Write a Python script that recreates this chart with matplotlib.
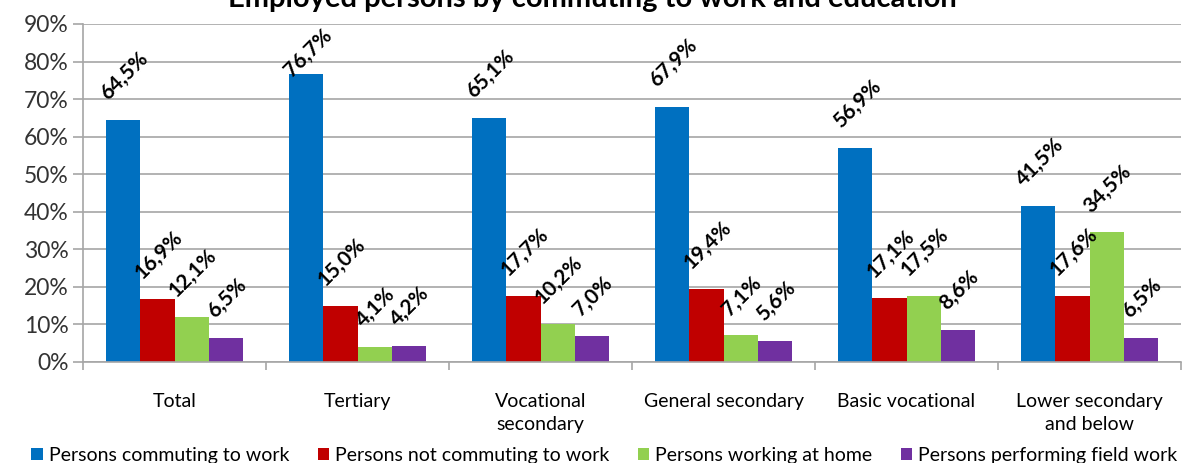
import matplotlib
matplotlib.use('Agg')
import matplotlib.pyplot as plt
import matplotlib.ticker as plticker
import numpy as np

plt.rcParams['font.family'] = ['Lato', 'DejaVu Sans']

categories = ['Total', 'Tertiary', 'Vocational\nsecondary', 'General secondary',
              'Basic vocational', 'Lower secondary\nand below']
series_names = ['Persons commuting to work', 'Persons not commuting to work',
                'Persons working at home', 'Persons performing field work']
commuting     = [64.5, 76.7, 65.1, 67.9, 56.9, 41.5]
not_commuting = [16.9, 15.0, 17.7, 19.4, 17.1, 17.6]
at_home       = [12.1, 4.1, 10.2, 7.1, 17.5, 34.5]
field_work    = [6.5, 4.2, 7.0, 5.6, 8.6, 6.5]
title = 'Employed persons by commuting to work and education'

series = [commuting, not_commuting, at_home, field_work]
colors = ['#0070C0', '#C00000', '#92D050', '#7030A0']
grid_color = '#a6a6a6'

fig = plt.figure(figsize=(11.85, 4.63), dpi=100)
ax = fig.add_axes([83/1185, 1 - 362/463, (1181 - 83)/1185, (362 - 24)/463])

x = np.arange(len(categories))
width = 0.186

for i, (vals, col, name) in enumerate(zip(series, colors, series_names)):
    pos = x + (i - 1.5)*width
    ax.bar(pos, vals, width, color=col, label=name, zorder=2)
    for px, v in zip(pos, vals):
        # labels above the bar, kept under the top of the plot area
        y_lab = min(v + 4.3, 74.8)
        ax.annotate(f'{v:.1f}%'.replace('.', ','), xy=(px, y_lab),
                    xytext=(1, 0), textcoords='offset points',
                    rotation=45, ha='center', va='bottom',
                    fontsize=15, fontweight='bold', zorder=3)

ax.set_xlim(-0.5, len(categories) - 0.5)
ax.set_ylim(0, 90)
ax.yaxis.set_major_locator(plticker.MultipleLocator(10))
ax.yaxis.set_major_formatter('{x:.0f}%')
ax.grid(axis='y', color=grid_color, linewidth=1.2, zorder=0)
ax.set_axisbelow(True)

ax.set_xticks(x, categories)
for lab in ax.get_xticklabels():
    lab.set_linespacing(1.45)
ax.set_xticks(np.arange(len(categories) + 1) - 0.5, minor=True)
ax.tick_params(axis='x', which='major', length=0, pad=22, labelsize=14)
ax.tick_params(axis='x', which='minor', length=6, width=1.2, color=grid_color)
ax.tick_params(axis='y', length=7, width=1.2, color=grid_color, labelsize=16.5,
               labelcolor='#333333')

for s in ['top', 'right']:
    ax.spines[s].set_visible(False)
for s in ['left', 'bottom']:
    ax.spines[s].set_color(grid_color)
    ax.spines[s].set_linewidth(1.2)

fig.text(0.5, 1 - 7/463, title, ha='center', va='baseline',
         fontsize=21, fontweight='bold')

fig.legend(loc='lower center', bbox_to_anchor=(0.51, -0.04), ncol=4,
           frameon=False, fontsize=14, handlelength=0.6, handleheight=0.6,
           handletextpad=0.3, columnspacing=1.45)

fig.savefig('out.png', dpi=100)
